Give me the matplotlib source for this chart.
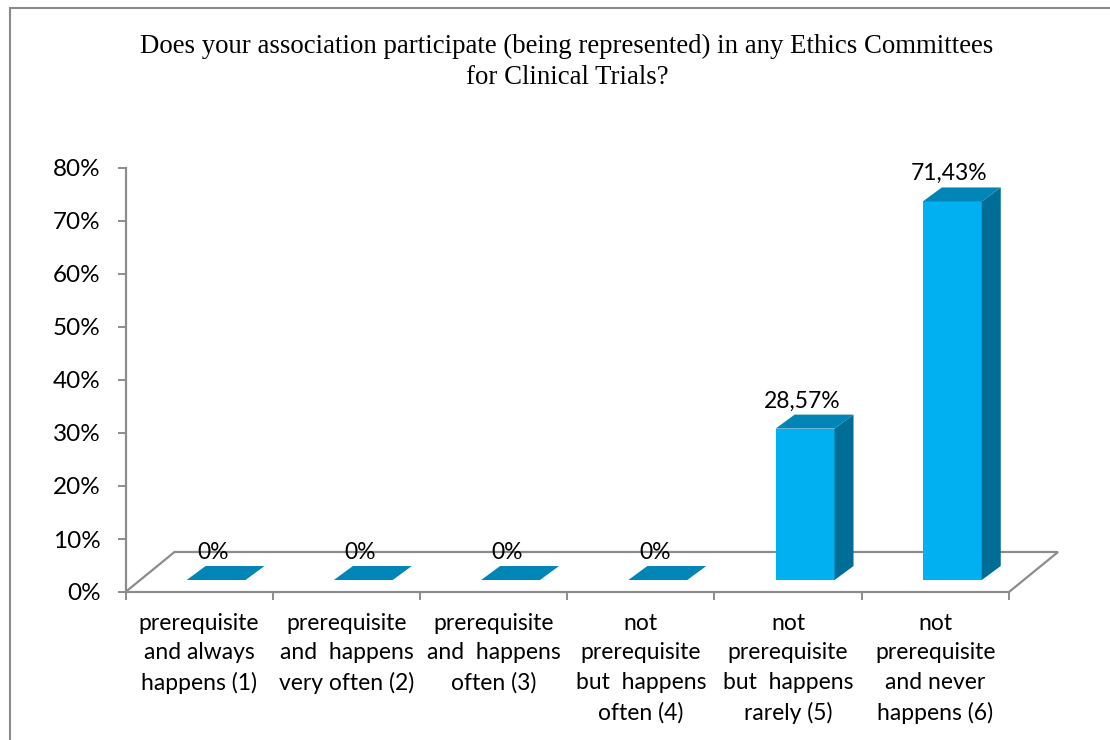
import matplotlib
matplotlib.use("Agg")
import matplotlib.pyplot as plt
from matplotlib.patches import Polygon, Rectangle

categories = [
    "prerequisite\nand always\nhappens (1)",
    "prerequisite\nand  happens\nvery often (2)",
    "prerequisite\nand  happens\noften (3)",
    "not\nprerequisite\nbut  happens\noften (4)",
    "not\nprerequisite\nbut  happens\nrarely (5)",
    "not\nprerequisite\nand never\nhappens (6)",
]
values = [0.0, 0.0, 0.0, 0.0, 28.57, 71.43]
value_labels = ["0%", "0%", "0%", "0%", "28,57%", "71,43%"]
yticks = [0, 10, 20, 30, 40, 50, 60, 70, 80]
ytick_labels = ["0%", "10%", "20%", "30%", "40%", "50%", "60%", "70%", "80%"]
title = "Does your association participate (being represented) in any Ethics Committees\nfor Clinical Trials?"

W, H = 1110, 740
fig = plt.figure(figsize=(W / 100, H / 100), dpi=100)
fig.patch.set_facecolor("white")

# outer border
fig.patches.append(Rectangle((10 / W, -0.05), 1.2, (H - 8) / H + 0.05, transform=fig.transFigure,
                             fill=False, edgecolor="#8a8a8a", linewidth=1.5))

ax = fig.add_axes([125.5 / W, (H - 592) / H, (1009 - 125.5) / W, (592 - 168) / H])
ax.set_xlim(-0.5, 5.5)
ax.set_ylim(0, 80)
ax.patch.set_alpha(0)

grey = "#8c8c8c"
front_c = "#00b0f0"
side_c = "#006d97"
top_c = "#0085b6"

# depth geometry in data units
floor_dx, floor_dy = 0.333, 7.55
off_dx, off_dy = 0.115, 2.26
bar_dx, bar_dy = 0.129, 2.64
bw = 0.40

# floor outline
ax.plot([-0.5, -0.5 + floor_dx, 5.5 + floor_dx, 5.5], [0, floor_dy, floor_dy, 0],
        color=grey, lw=1.6, clip_on=False, zorder=1, solid_joinstyle="miter")

for i, v in enumerate(values):
    x0 = i + off_dx - bw / 2
    x1 = i + off_dx + bw / 2
    yb = off_dy
    yt = off_dy + v
    if v > 0:
        ax.add_patch(Polygon([(x0, yb), (x1, yb), (x1, yt), (x0, yt)], closed=True,
                             facecolor=front_c, edgecolor="none", zorder=3, clip_on=False))
        ax.add_patch(Polygon([(x1, yb), (x1 + bar_dx, yb + bar_dy), (x1 + bar_dx, yt + bar_dy), (x1, yt)],
                             closed=True, facecolor=side_c, edgecolor="none", zorder=3, clip_on=False))
    ax.add_patch(Polygon([(x0, yt), (x1, yt), (x1 + bar_dx, yt + bar_dy), (x0 + bar_dx, yt + bar_dy)],
                         closed=True, facecolor=top_c, edgecolor="none", zorder=3, clip_on=False))
    ax.text(i + off_dx - 0.02, yt + bar_dy + 0.6, value_labels[i], ha="center", va="bottom",
            fontsize=16.5, family="Lato", color="black", zorder=4, clip_on=False)

# axes styling
for s in ["top", "right"]:
    ax.spines[s].set_visible(False)
for s in ["left", "bottom"]:
    ax.spines[s].set_color(grey)
    ax.spines[s].set_linewidth(1.6)
ax.spines["bottom"].set_zorder(2)

ax.set_yticks(yticks)
ax.set_yticklabels(ytick_labels, family="Lato", fontsize=17.5)
ax.tick_params(axis="y", length=6, width=1.4, color=grey, pad=12)

ax.set_xticks(range(len(categories)))
ax.set_xticklabels(categories, family="Lato", fontsize=16.5, linespacing=1.5, va="top")
ax.tick_params(axis="x", which="major", length=0, pad=15)
ax.set_xticks([i - 0.5 for i in range(len(categories) + 1)], minor=True)
ax.tick_params(axis="x", which="minor", length=6, width=1.4, color=grey)

fig.text(567 / W, (H - 62) / H, title, ha="center", va="center", family="Liberation Serif",
         fontsize=19.3, linespacing=1.3)

fig.savefig("out.png", dpi=100)
